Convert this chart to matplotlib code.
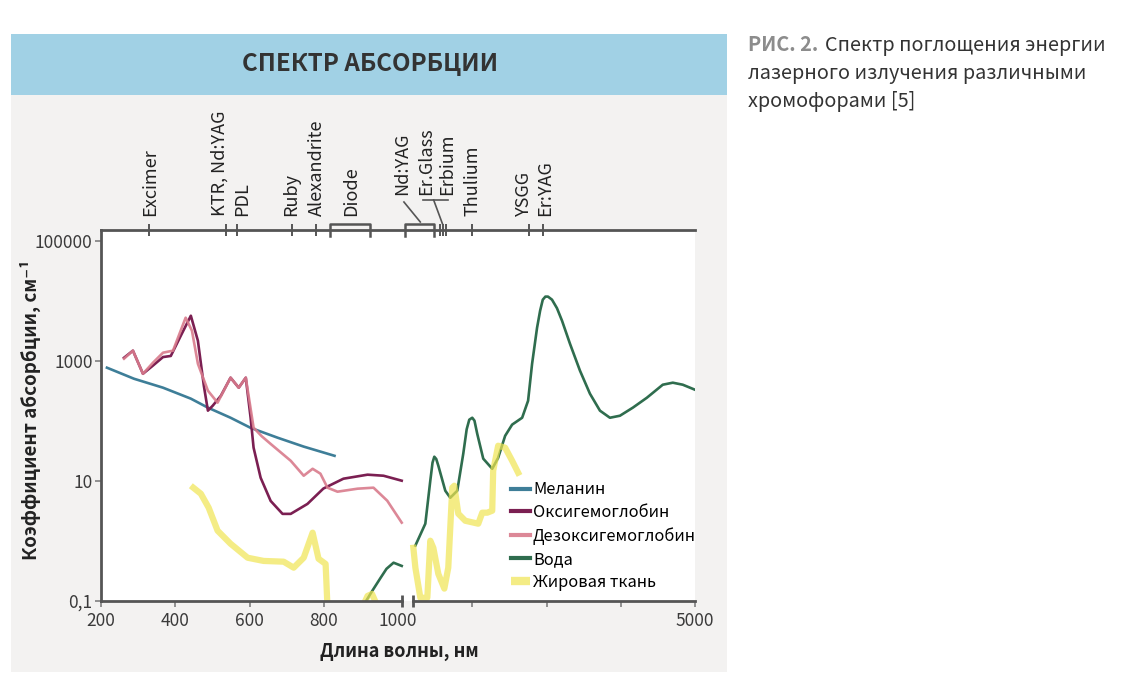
import numpy as np
import matplotlib
matplotlib.use('Agg')
import matplotlib.pyplot as plt
import matplotlib.transforms as mtransforms
from matplotlib.patches import Rectangle
from matplotlib.ticker import NullLocator

plt.rcParams['font.family'] = ['Noto Sans CJK SC', 'DejaVu Sans']

# --- данные (длина волны, нм / коэффициент абсорбции, см-1) ---
melanin_nm = [216, 289, 367, 442, 488, 549, 603, 676, 746, 829]
melanin_k = [765, 500, 355, 233, 165, 112, 76, 52, 37, 26]

oxy_nm = [262, 286, 313, 340, 367, 388, 415, 442, 461, 477, 488, 501, 523, 549, 571, 590,
          603, 611, 630, 657, 689, 711, 756, 799, 853, 918, 961, 1050]
oxy_k = [1120, 1470, 606, 830, 1150, 1200, 2610, 5620, 2150, 383, 147, 178, 261, 521, 355, 521,
         112, 35.5, 11.2, 4.6, 2.8, 2.8, 4.1, 7.4, 10.8, 12.6, 12.1, 10]

deoxy_nm = [262, 286, 313, 340, 367, 394, 428, 445, 461, 488, 514, 549, 571, 590, 611, 633,
            657, 711, 746, 770, 791, 810, 837, 891, 934, 971, 1050]
deoxy_k = [1080, 1470, 606, 926, 1360, 1470, 5210, 3160, 890, 316, 200, 521, 355, 521, 76.5, 55,
           41, 21.5, 12.1, 15.8, 13.1, 7.65, 6.56, 7.36, 7.65, 4.64, 2.0]

water1_nm = [910, 931, 953, 969, 988, 1050]
water1_k = [0.09, 0.147, 0.24, 0.34, 0.43, 0.38]

water2_nm = [1234, 1368, 1435, 1465, 1489, 1515, 1543, 1637, 1704, 1798, 1879, 1925, 1960,
             2000, 2030, 2067, 2148, 2269, 2349, 2443, 2537, 2672, 2752, 2806, 2873, 2914,
             2950, 2985, 3020, 3074, 3141, 3209, 3316, 3451, 3585, 3720, 3854, 3989, 4163,
             4351, 4566, 4701, 4835, 5000]
water2_k = [0.83, 1.92, 10, 20, 25.1, 23, 17.8, 6.8, 5.2, 6.8, 28.2, 72, 104,
            112, 100, 60.6, 23.3, 15.8, 24.1, 56, 86, 112, 215, 890, 3550, 6800,
            10400, 11700, 11700, 10400, 7500, 4640, 1920, 681, 282, 147, 112, 121, 165,
            241, 398, 430, 398, 328]

fat1_nm = [442, 469, 490, 514, 549, 595, 638, 692, 719, 746, 770, 786, 805, 810]
fat1_k = [8.25, 6.06, 3.55, 1.47, 0.89, 0.52, 0.46, 0.447, 0.355, 0.52, 1.36, 0.50, 0.41, 0.08]

fat2_nm = [905, 918, 930, 945]
fat2_k = [0.08, 0.12, 0.13, 0.08]

fat3_nm = [1207, 1234, 1301, 1395, 1435, 1476, 1543, 1624, 1677, 1731, 1758, 1812, 1906,
           2081, 2135, 2202, 2269, 2282, 2349, 2443, 2537, 2618]
fat3_k = [0.76, 0.355, 0.112, 0.112, 1.0, 0.76, 0.28, 0.159, 0.355, 7.65, 8.25, 2.82, 2.15,
          1.92, 2.93, 2.93, 3.16, 14.7, 38.3, 35.5, 21.5, 13.6]

# лазеры (верхняя шкала)
laser_ticks = [330, 537, 566, 714, 779, 1566, 1606, 1653, 2000, 2764, 2953]
diode_range = [817, 925]
ndyag_range = [1094, 1485]
laser_names = ['Excimer', 'KTR, Nd:YAG', 'PDL', 'Ruby', 'Alexandrite', 'Diode',
               'Nd:YAG', 'Er.Glass', 'Erbium', 'Thulium', 'YSGG', 'Er:YAG']
laser_label_nm = [332, 520, 580, 712, 781, 873, 1054, 1377, 1660, 1997, 2697, 2975]

x_ticks = [200, 400, 600, 800, 1000, 2000, 3000, 4000, 5000]
x_ticklabels = ['200', '400', '600', '800', '1000', '', '', '', '5000']
y_ticks = [0.1, 10, 1000, 100000]
y_ticklabels = ['0,1', '10', '1000', '100000']

legend_names = ['Меланин', 'Оксигемоглобин', 'Дезоксигемоглобин', 'Вода', 'Жировая ткань']
colors = ['#3e7e98', '#7b1f52', '#d97b8c', '#2f6d4e', '#f0e552']
axc = '#555555'


# ось X: до 1000 нм шаг 200, после — шаг 1000
def fwd(x):
    x = np.asarray(x, dtype=float)
    return np.where(x <= 1000, (x - 200) / 200, 4 + (x - 1000) / 1000)


def inv(u):
    u = np.asarray(u, dtype=float)
    return np.where(u <= 4, 200 + 200 * u, 1000 + 1000 * (u - 4))


W, H = 1130, 686
fig = plt.figure(figsize=(W / 100, H / 100), dpi=100)
fig.patch.set_facecolor('white')

# серая подложка и синяя шапка
fig.add_artist(Rectangle((11 / W, 1 - 672 / H), 716 / W, 638 / H, transform=fig.transFigure,
                         facecolor='#f3f2f1', edgecolor='none', zorder=-10))
fig.add_artist(Rectangle((11 / W, 1 - 95 / H), 716 / W, 61 / H, transform=fig.transFigure,
                         facecolor='#a1d1e5', edgecolor='none', zorder=-9))
fig.text(370 / W, 1 - 64 / H, 'СПЕКТР АБСОРБЦИИ', ha='center', va='center',
         fontsize=17.4, fontweight='bold', color='#333333')

# подпись справа
cap = 14.3
fig.text(748 / W, 1 - 51 / H, 'РИС. 2.', fontsize=cap, fontweight='bold', color='#8c8c8c',
         va='baseline')
fig.text(825 / W, 1 - 51 / H, 'Спектр поглощения энергии', fontsize=cap, color='#333333',
         va='baseline')
fig.text(748 / W, 1 - 79 / H, 'лазерного излучения различными', fontsize=cap,
         color='#333333', va='baseline')
fig.text(748 / W, 1 - 107 / H, 'хромофорами [5]', fontsize=cap, color='#333333',
         va='baseline')

ax = fig.add_axes([101 / W, 1 - 600.7 / H, 594 / W, 370.7 / H])
ax.set_facecolor('white')
ax.set_xscale('function', functions=(fwd, inv))
ax.set_yscale('log')
ax.set_xlim(200, 5000)
ax.set_ylim(0.1, 10 ** (5 + 10.7 / 60))

lw = 1.9
ax.plot(melanin_nm, melanin_k, color=colors[0], lw=lw, label=legend_names[0])
ax.plot(oxy_nm, oxy_k, color=colors[1], lw=lw, label=legend_names[1])
ax.plot(deoxy_nm, deoxy_k, color=colors[2], lw=lw, alpha=0.9, label=legend_names[2])
ax.plot(water1_nm, water1_k, color=colors[3], lw=lw, label=legend_names[3])
ax.plot(water2_nm, water2_k, color=colors[3], lw=lw)
ax.plot(fat1_nm, fat1_k, color=colors[4], lw=4.5, alpha=0.7, label=legend_names[4],
        solid_capstyle='butt')
ax.plot(fat2_nm, fat2_k, color=colors[4], lw=4.5, alpha=0.7)
ax.plot(fat3_nm, fat3_k, color=colors[4], lw=4.5, alpha=0.7)

# рамка
for s in ['right', 'bottom']:
    ax.spines[s].set_visible(False)
for s in ['left', 'top']:
    ax.spines[s].set_color(axc)
    ax.spines[s].set_linewidth(2)

trans = mtransforms.blended_transform_factory(ax.transData, ax.transAxes)

# нижняя ось с разрывом
ax.plot([200, 1060], [0, 0], color=axc, lw=2, transform=trans, clip_on=False)
ax.plot([1200, 5000], [0, 0], color=axc, lw=2, transform=trans, clip_on=False)
ax.plot([1060, 1200], [0, 0], ls='none', marker='|', ms=9, mew=2, color=axc,
        transform=trans, clip_on=False)

ax.set_xticks(x_ticks)
ax.set_xticklabels(x_ticklabels)
ax.set_yticks(y_ticks)
ax.set_yticklabels(y_ticklabels)
ax.yaxis.set_minor_locator(NullLocator())
ax.xaxis.set_minor_locator(NullLocator())
ax.tick_params(axis='both', direction='out', length=4, width=1.3, color='#888888',
               labelsize=12.5, labelcolor='#3a3a3a')
ax.tick_params(axis='x', pad=4)
ax.tick_params(axis='y', pad=2)
ax.xaxis.get_major_ticks()[4].tick1line.set_visible(False)

ax.set_xlabel('Длина волны, нм', fontsize=13, fontweight='bold', color='#222222')
ax.set_ylabel('Коэффициент абсорбции, см⁻¹', fontsize=13.5, fontweight='bold',
              color='#222222')
ax.xaxis.set_label_coords(0.503, -0.112)
ax.yaxis.set_label_coords(-0.101, 0.514)

# верхняя шкала лазеров
ax.plot(laser_ticks, [1] * len(laser_ticks), ls='none', marker='|', ms=9, mew=1.4,
        color=axc, transform=trans, clip_on=False)
for a, b in [diode_range, ndyag_range]:
    ax.plot([a, a, b, b], [0.984, 1.0175, 1.0175, 0.984], color=axc, lw=1.8,
            transform=trans, clip_on=False)
ax.plot([1080, 1300], [1.0755, 1.0216], color=axc, lw=1.2, transform=trans, clip_on=False)
ax.plot([1340, 1670], [1.081, 1.081], color=axc, lw=1.2, transform=trans, clip_on=False)
ax.plot([1480, 1600], [1.081, 1.016], color=axc, lw=1.2, transform=trans, clip_on=False)

for name, x in zip(laser_names, laser_label_nm):
    y = 1.094 if name in ('Nd:YAG', 'Er.Glass', 'Erbium') else 1.038
    ax.text(x, y, name, transform=trans, rotation=90, ha='center', va='bottom',
            fontsize=13, color='#222222')

leg = ax.legend(loc='upper left', bbox_to_anchor=(0.690, 0.322), frameon=False,
                fontsize=11.8, handlelength=1.15, handletextpad=0.2, labelspacing=0.36,
                borderpad=0, borderaxespad=0)
for h in leg.get_lines():
    h.set_linewidth(3)
leg.get_lines()[4].set_linewidth(6)

fig.savefig('out.png', dpi=100)
